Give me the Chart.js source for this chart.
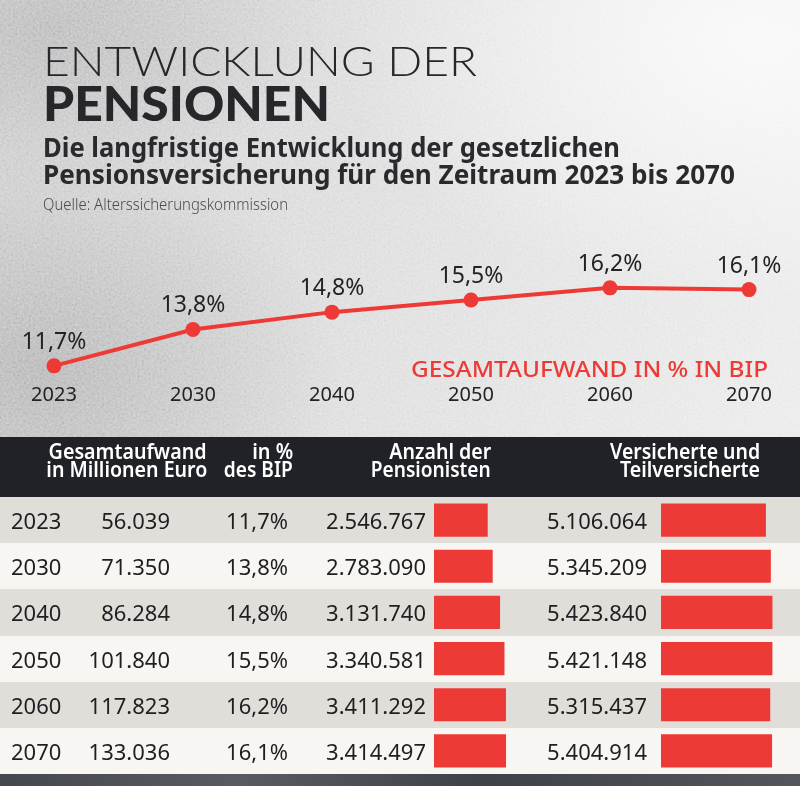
<!DOCTYPE html>
<html lang="de">
<head>
<meta charset="utf-8">
<title>Entwicklung der Pensionen</title>
<script src="https://cdn.jsdelivr.net/npm/chart.js@4/dist/chart.umd.min.js"></script>
<style>
  html, body { margin: 0; padding: 0; }
  body {
    width: 800px; height: 786px; position: relative; overflow: hidden;
    font-family: "Noto Sans", "Open Sans", sans-serif; color: #232327;
    background:
      radial-gradient(ellipse 420px 260px at 760px 40px, rgba(250,250,250,0.95), rgba(250,250,250,0) 100%),
      radial-gradient(ellipse 300px 220px at 40px 370px, rgba(150,150,150,0.55), rgba(150,150,150,0) 100%),
      radial-gradient(ellipse 280px 170px at 50px 30px, rgba(165,165,165,0.6), rgba(165,165,165,0) 100%),
      linear-gradient(100deg, #cdcdcd 0%, #d9d9d9 40%, #e3e3e3 70%, #ebebeb 100%);
  }
  .noise {
    position: absolute; left: 0; top: 0; width: 800px; height: 440px; opacity: 0.45;
    background-image: url("data:image/svg+xml,%3Csvg xmlns='http://www.w3.org/2000/svg' width='800' height='440'%3E%3Cfilter id='n'%3E%3CfeTurbulence type='fractalNoise' baseFrequency='0.45' numOctaves='4' seed='7'/%3E%3CfeColorMatrix type='matrix' values='0.6 0.6 0 0 -0.1  0.6 0.6 0 0 -0.1  0.6 0.6 0 0 -0.1  0 0 0 0 1'/%3E%3C/filter%3E%3Crect width='800' height='440' filter='url(%23n)'/%3E%3C/svg%3E");
    mix-blend-mode: overlay;
  }
  .t { position: absolute; white-space: nowrap; line-height: 1; }
  .fit { transform-origin: 0 0; }
  .fitr { transform-origin: 100% 0; }
  #t1 { left: 43px; top: 39px; font-family: Lato, "Noto Sans"; font-weight: 300; font-size: 42px; color: #26272b; }
  #t2 { left: 43px; top: 80px; font-family: Lato, "Noto Sans"; font-weight: 900; font-size: 47px; color: #26272b; }
  .sub { left: 43px; font-weight: 700; font-size: 26px; color: #2a2a2e; }
  #s1 { top: 134px; }
  #s2 { top: 161px; }
  #src { left: 43px; top: 196px; font-size: 16px; font-weight: 300; color: #4a4a4a; }
  #lbl { left: 411px; top: 357px; font-size: 22px; font-weight: 500; color: #ee3a36; }
  #line { position: absolute; left: 0; top: 228px; }
  #head { position: absolute; left: 0; top: 437px; width: 800px; height: 60px; background: #202228; }
  .h { color: #ffffff; font-weight: 600; font-size: 21px; }
  .row { position: absolute; left: 0; width: 800px; height: 46.2px; }
  .row.a { background: #e1deda; }
  .row.b { background: #f8f6f2; }
  .c { position: absolute; top: 0; height: 46.2px; line-height: 46.2px; font-size: 22px; color: #1f1f22; white-space: nowrap; }
  .bars { position: absolute; top: 497px; }
  #foot {
    position: absolute; left: 0; top: 774px; width: 800px; height: 12px;
    background: linear-gradient(90deg, #45474f, #5a5b62 30%, #3f4149 60%, #55565c);
  }
</style>
</head>
<body>
<div class="noise"></div>

<div class="t fit" id="t1" data-w="434">ENTWICKLUNG DER</div>
<div class="t fit" id="t2" data-w="287">PENSIONEN</div>
<div class="t sub fit" id="s1" data-w="577">Die langfristige Entwicklung der gesetzlichen</div>
<div class="t sub fit" id="s2" data-w="692">Pensionsversicherung für den Zeitraum 2023 bis 2070</div>
<div class="t fit" id="src" data-w="245">Quelle: Alterssicherungskommission</div>

<canvas id="line" width="800" height="190"></canvas>
<div class="t fit" id="lbl" data-w="357">GESAMTAUFWAND IN % IN BIP</div>

<div id="head"></div>
<div id="rows"></div>
<canvas class="bars" id="barsPens" width="100" height="277" style="left:434px"></canvas>
<canvas class="bars" id="barsVers" width="130" height="277" style="left:661px"></canvas>
<div id="foot"></div>

<script>
// Daten: Alterssicherungskommission
var years = ['2023', '2030', '2040', '2050', '2060', '2070'];
var bipPct = [11.7, 13.8, 14.8, 15.5, 16.2, 16.1];
var aufwandMio = ['56.039', '71.350', '86.284', '101.840', '117.823', '133.036'];
var pensionisten = [2546767, 2783090, 3131740, 3340581, 3411292, 3414497];
var versicherte = [5106064, 5345209, 5423840, 5421148, 5315437, 5404914];

var RED = '#ee3a36';
var headLines = [
    // text, right edge, width, top
    ['Gesamtaufwand', 207, 158, 441],
    ['in Millionen Euro', 207, 161, 459],
    ['in %', 293, 41, 441],
    ['des BIP', 293, 69, 459],
    ['Anzahl der', 491, 102, 441],
    ['Pensionisten', 491, 120, 459],
    ['Versicherte und', 760, 150, 441],
    ['Teilversicherte', 760, 140, 459]
];

function fmtPct(v) {
    return v.toFixed(1).replace('.', ',') + '%';
}
function fmtNum(v) {
    return String(v).replace(/\B(?=(\d{3})+(?!\d))/g, '.');
}

// Tabellenkopf
headLines.forEach(function (h) {
    var d = document.createElement('div');
    d.className = 't h fitr';
    d.textContent = h[0];
    d.setAttribute('data-w', h[2]);
    d.style.right = (800 - h[1]) + 'px';
    d.style.top = h[3] + 'px';
    document.body.appendChild(d);
});

// Tabellenzeilen
var rowsEl = document.getElementById('rows');
years.forEach(function (y, i) {
    var r = document.createElement('div');
    r.className = 'row ' + (i % 2 == 0 ? 'a' : 'b');
    r.style.top = (497 + i * 46.2) + 'px';
    var cells = [
        [y, 'left:11px'],
        [aufwandMio[i], 'right:' + (800 - 170) + 'px'],
        [fmtPct(bipPct[i]), 'right:' + (800 - 288) + 'px'],
        [fmtNum(pensionisten[i]), 'right:' + (800 - 426) + 'px'],
        [fmtNum(versicherte[i]), 'right:' + (800 - 647) + 'px']
    ];
    cells.forEach(function (c) {
        var s = document.createElement('div');
        s.className = 'c';
        s.textContent = c[0];
        s.setAttribute('style', c[1]);
        r.appendChild(s);
    });
    rowsEl.appendChild(r);
});

// Text auf Zielbreite stauchen
document.querySelectorAll('[data-w]').forEach(function (el) {
    var w = el.getBoundingClientRect().width;
    var target = parseFloat(el.getAttribute('data-w'));
    el.style.transform = 'scaleX(' + (target / w) + ')';
});

// Werte über den Punkten
var valueLabels = {
    id: 'valueLabels',
    afterDatasetsDraw: function (chart) {
        var ctx = chart.ctx;
        var meta = chart.getDatasetMeta(0);
        ctx.save();
        ctx.font = '400 23px "Noto Sans"';
        ctx.fillStyle = '#232327';
        ctx.textAlign = 'center';
        ctx.textBaseline = 'alphabetic';
        meta.data.forEach(function (pt, i) {
            ctx.fillText(fmtPct(bipPct[i]), pt.x, pt.y - 17);
        });
        ctx.restore();
    }
};

new Chart(document.getElementById('line').getContext('2d'), {
    type: 'line',
    data: {
        labels: years,
        datasets: [{
            data: bipPct,
            borderColor: RED,
            backgroundColor: RED,
            borderWidth: 4,
            pointRadius: 7.5,
            pointBorderWidth: 0,
            pointBackgroundColor: RED,
            tension: 0,
            clip: false
        }]
    },
    options: {
        responsive: false,
        animation: false,
        layout: { padding: { top: 46, bottom: 6, left: 54, right: 51 } },
        plugins: { legend: { display: false }, tooltip: { enabled: false } },
        scales: {
            x: {
                offset: false,
                grid: { display: false, drawTicks: false },
                border: { display: false },
                ticks: { color: '#232327', font: { family: 'Noto Sans', size: 20 }, padding: 5, maxRotation: 0, autoSkip: false }
            },
            y: { display: false, min: 11, max: 17 }
        }
    },
    plugins: [valueLabels]
});

function barChart(id, values, max) {
    return new Chart(document.getElementById(id).getContext('2d'), {
        type: 'bar',
        data: {
            labels: years,
            datasets: [{
                data: values,
                backgroundColor: RED,
                borderWidth: 0,
                barPercentage: 0.72,
                categoryPercentage: 1
            }]
        },
        options: {
            indexAxis: 'y',
            responsive: false,
            animation: false,
            layout: { padding: 0 },
            plugins: { legend: { display: false }, tooltip: { enabled: false } },
            scales: {
                x: { display: false, min: 0, max: max },
                y: { display: false }
            }
        }
    });
}
barChart('barsPens', pensionisten, 4740000);
barChart('barsVers', versicherte, 6326000);
</script>
</body>
</html>
